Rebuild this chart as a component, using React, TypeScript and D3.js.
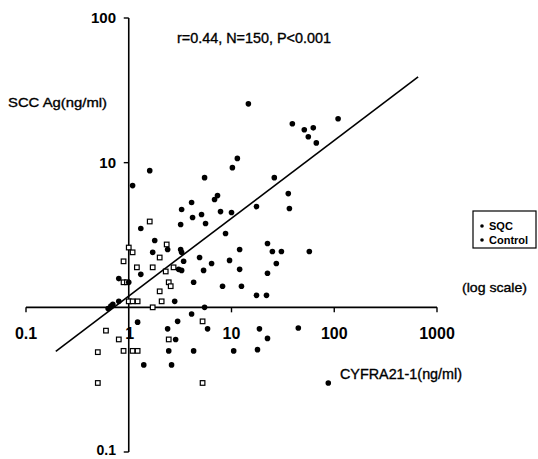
import React from "react";
import * as d3 from "d3";

// SQC patients (filled dots)
const sqcX = [14.6, 1.09, 1.6, 11.4, 10.2, 5.47, 7.31, 6.84, 4.09, 3.27, 5.11, 4.18, 7.82, 10, 17.5, 1.31, 3.2, 5.59, 8.75, 1.79, 2.39, 1.71, 3.2, 3.27, 12.0, 22.4, 3.42, 4.89, 6.4, 9.57, 3.06, 3.27, 5.35, 12.0, 22.4, 1.31, 0.8, 1.0, 4.28, 8.18, 12.5, 17.5, 21.9, 2.8, 0.8, 0.67, 0.63, 0.7, 5.47, 39.1, 51.1, 62.5, 55.9, 66.9, 109, 26.1, 35.7, 36.6, 25.0, 30.6, 57.2, 27.3, 1.22, 2.99, 4.09, 5.85, 2.39, 2.86, 2.45, 4.28, 10.5, 17.9, 1.4, 2.61, 18.7, 22.4, 44.7, 87.5];
const sqcY = [25.5, 6.94, 8.81, 10.7, 9.24, 7.88, 5.92, 5.56, 5.3, 4.74, 4.38, 4.18, 4.59, 4.52, 4.97, 3.51, 3.74, 3.8, 3.24, 2.9, 2.51, 2.4, 2.51, 2.4, 2.51, 2.76, 2.08, 2.21, 2.01, 2.11, 1.83, 1.8, 1.8, 1.83, 1.72, 1.69, 1.58, 1.49, 1.49, 1.4, 1.4, 1.21, 1.21, 1.1, 1.1, 1.02, 0.98, 1.05, 1.0, 18.6, 16.9, 17.4, 15.1, 13.7, 20.1, 7.88, 6.11, 4.82, 2.43, 2.43, 2.43, 2.01, 0.79, 0.8, 0.9, 0.71, 0.71, 0.6, 0.5, 0.5, 0.5, 0.51, 0.4, 0.4, 0.71, 0.61, 0.72, 0.3];

// controls (open squares)
const ctrlX = [1.6, 1.0, 1.09, 2.34, 0.89, 1.2, 1.71, 2.0, 2.29, 2.73, 0.89, 0.96, 2.45, 2.56, 2.0, 2.09, 1.0, 1.09, 1.22, 1.71, 5.23, 0.6, 0.8, 2.45, 0.5, 0.89, 1.09, 1.22, 0.5, 5.23];
const ctrlY = [3.92, 2.59, 2.4, 2.72, 2.08, 1.89, 1.89, 2.21, 1.77, 1.89, 1.49, 1.49, 1.49, 1.4, 1.29, 1.1, 1.1, 1.1, 1.1, 1.0, 0.8, 0.69, 0.6, 0.6, 0.49, 0.5, 0.5, 0.5, 0.3, 0.3];

// regression: log y = a + b log x
const regA = 0.078;
const regB = 0.538;
const regRange = [0.195, 655];

const xTicks = [0.1, 1, 10, 100, 1000];
const xTickLabels = ["0.1", "1", "10", "100", "1000"];
const yTicks = [0.1, 10, 100];
const yTickLabels = ["0.1", "10", "100"];

const W = 538;
const H = 459;
const font = "'Liberation Sans', Arial, sans-serif";

export default function App() {
  const x = d3.scaleLog().domain([0.1, 1000]).range([26, 437]);
  const y = d3.scaleLog().domain([0.1, 100]).range([452, 18]);
  const x0 = x(1);
  const y0 = y(1);

  const line = d3
    .line<number>()
    .x((d) => x(d))
    .y((d) => y(Math.pow(10, regA + regB * Math.log10(d))));

  // scanned look: slightly heavier strokes on the plain texts
  const heavy = { stroke: "#000", strokeWidth: 0.35 };

  return (
    <svg
      width={W}
      height={H}
      style={{ position: "absolute", left: 0, top: 0, background: "#fff" }}
      fontFamily={font}
    >
      {/* axes */}
      <line x1={x(0.1)} x2={x(1000)} y1={y0} y2={y0} stroke="#000" strokeWidth={1.6} />
      <line x1={x0} x2={x0} y1={y(0.1)} y2={y(100)} stroke="#000" strokeWidth={1.6} />
      {xTicks.map((t, i) => (
        <g key={"xt" + i}>
          {t !== 1 && (
            <line x1={x(t)} x2={x(t)} y1={y0} y2={y0 + 5} stroke="#000" strokeWidth={1.4} />
          )}
          <text x={x(t) + (t === 1 ? 1 : 0)} y={339} textAnchor="middle" fontSize={16} fontWeight="bold">
            {xTickLabels[i]}
          </text>
        </g>
      ))}
      {yTicks.map((t, i) => (
        <g key={"yt" + i}>
          <line x1={x0 - 5} x2={x0} y1={y(t)} y2={y(t)} stroke="#000" strokeWidth={1.4} />
          <text
            x={116}
            y={t === 0.1 ? y(t) + 3 : y(t) + 5}
            textAnchor="end"
            fontSize={t === 0.1 ? 14 : 15}
            fontWeight="bold"
          >
            {yTickLabels[i]}
          </text>
        </g>
      ))}

      {/* regression line */}
      <path d={line(regRange) ?? ""} fill="none" stroke="#000" strokeWidth={1.6} />

      {/* points */}
      {ctrlX.map((v, i) => (
        <rect
          key={"c" + i}
          x={x(v) - 2.3}
          y={y(ctrlY[i]) - 2.3}
          width={4.6}
          height={4.6}
          fill="#fff"
          stroke="#000"
          strokeWidth={1.2}
        />
      ))}
      {sqcX.map((v, i) => (
        <circle key={"s" + i} cx={x(v)} cy={y(sqcY[i])} r={2.8} fill="#000" />
      ))}

      {/* texts */}
      <text x={177} y={43} fontSize={14} textLength={154} lengthAdjust="spacingAndGlyphs" {...heavy}>
        r=0.44, N=150, P&lt;0.001
      </text>
      <text x={8} y={107} fontSize={13} textLength={99} lengthAdjust="spacingAndGlyphs" {...heavy}>
        SCC Ag(ng/ml)
      </text>
      <text x={462} y={292} fontSize={13} textLength={65} lengthAdjust="spacingAndGlyphs" {...heavy}>
        (log scale)
      </text>
      <text x={340} y={379} fontSize={14} textLength={122} lengthAdjust="spacingAndGlyphs" {...heavy}>
        CYFRA21-1(ng/ml)
      </text>

      {/* legend */}
      <rect x={473} y={211} width={63} height={37} fill="#fff" stroke="#000" strokeWidth={1.2} />
      <circle cx={482} cy={226} r={1.8} fill="#000" />
      <text x={489} y={230} fontSize={11} fontWeight="bold">SQC</text>
      <circle cx={482} cy={240} r={1.8} fill="#000" />
      <text x={489} y={244} fontSize={11} fontWeight="bold">Control</text>
    </svg>
  );
}
